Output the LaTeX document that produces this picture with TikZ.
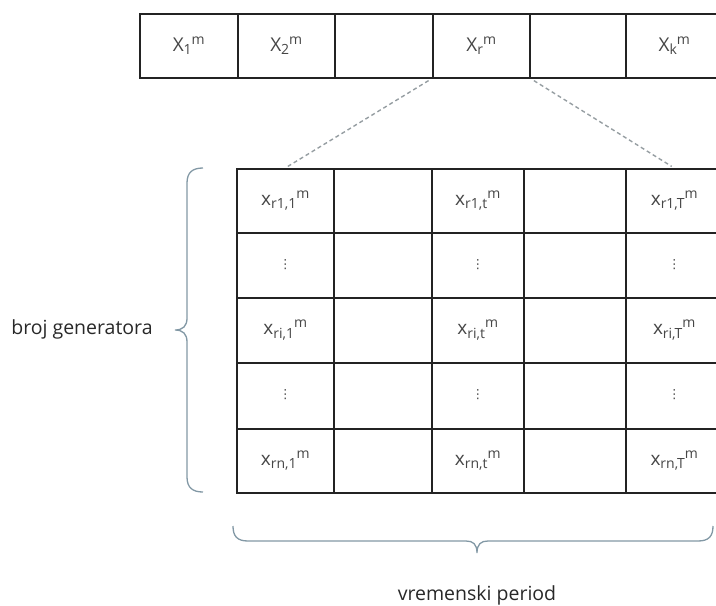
\documentclass[tikz,border=0pt]{standalone}
\usepackage{fontspec}
\setmainfont{Open Sans}
\newfontfamily\symfont{DejaVu Sans}
\definecolor{gridline}{RGB}{35,35,35}
\definecolor{dashgray}{RGB}{150,158,162}
\definecolor{bracecol}{RGB}{130,152,165}
\definecolor{celltxt}{RGB}{70,70,70}
\definecolor{maintxt}{RGB}{40,40,40}
\newcommand{\subsupfont}{\fontsize{14}{15}\selectfont}
\newcommand{\celllbl}[4]{\raisebox{#4}{#1\raisebox{-3.5pt}{\subsupfont #2}\raisebox{7pt}{\subsupfont #3}}}
\newcommand{\vdotsl}{\raisebox{3pt}{\symfont\fontsize{12.5}{13}\selectfont ⋮}}
\begin{document}
\begin{tikzpicture}[x=1pt,y=-1pt,
  cellbox/.style={draw=gridline, line width=1.5pt, anchor=north west, inner sep=0pt,
    text=celltxt, font=\fontsize{19}{21}\selectfont},
  dashline/.style={draw=dashgray, line width=1.4pt, dash pattern=on 4pt off 3pt,
    shorten <=4pt, shorten >=3pt},
  bracestyle/.style={draw=bracecol, line width=1.3pt},
  maintext/.style={text=maintxt, font=\fontsize{19.5}{22}\selectfont, inner sep=0pt}]
\useasboundingbox (0,0) rectangle (716,606);
% top row
\node[cellbox, minimum width=98pt, minimum height=64pt] (t1) at (139,13) {\celllbl{X}{1}{m}{2pt}};
\node[cellbox, minimum width=97pt, minimum height=64pt] (t2) at (237,13) {\celllbl{X}{2}{m}{2pt}};
\node[cellbox, minimum width=98pt, minimum height=64pt] (t3) at (334,13) {};
\node[cellbox, minimum width=97pt, minimum height=64pt] (t4) at (432,13) {\celllbl{X}{r}{m}{2pt}};
\node[cellbox, minimum width=96pt, minimum height=64pt] (t5) at (529,13) {};
\node[cellbox, minimum width=97pt, minimum height=64pt] (t6) at (625,13) {\celllbl{X}{k}{m}{2pt}};
% grid row 1
\node[cellbox, minimum width=97pt, minimum height=64pt] (g11) at (236,168) {\celllbl{x}{r1,1}{m}{6pt}};
\node[cellbox, minimum width=98pt, minimum height=64pt] (g12) at (333,168) {};
\node[cellbox, minimum width=92pt, minimum height=64pt] (g13) at (431,168) {\celllbl{x}{r1,t}{m}{6pt}};
\node[cellbox, minimum width=102pt, minimum height=64pt] (g14) at (523,168) {};
\node[cellbox, minimum width=97pt, minimum height=64pt] (g15) at (625,168) {\celllbl{x}{r1,T}{m}{6pt}};
% grid row 2
\node[cellbox, minimum width=97pt, minimum height=65pt] (g21) at (236,232) {\vdotsl};
\node[cellbox, minimum width=98pt, minimum height=65pt] (g22) at (333,232) {};
\node[cellbox, minimum width=92pt, minimum height=65pt] (g23) at (431,232) {\vdotsl};
\node[cellbox, minimum width=102pt, minimum height=65pt] (g24) at (523,232) {};
\node[cellbox, minimum width=97pt, minimum height=65pt] (g25) at (625,232) {\vdotsl};
% grid row 3
\node[cellbox, minimum width=97pt, minimum height=65pt] (g31) at (236,297) {\celllbl{x}{ri,1}{m}{6pt}};
\node[cellbox, minimum width=98pt, minimum height=65pt] (g32) at (333,297) {};
\node[cellbox, minimum width=92pt, minimum height=65pt] (g33) at (431,297) {\celllbl{x}{ri,t}{m}{6pt}};
\node[cellbox, minimum width=102pt, minimum height=65pt] (g34) at (523,297) {};
\node[cellbox, minimum width=97pt, minimum height=65pt] (g35) at (625,297) {\celllbl{x}{ri,T}{m}{6pt}};
% grid row 4
\node[cellbox, minimum width=97pt, minimum height=66pt] (g41) at (236,362) {\vdotsl};
\node[cellbox, minimum width=98pt, minimum height=66pt] (g42) at (333,362) {};
\node[cellbox, minimum width=92pt, minimum height=66pt] (g43) at (431,362) {\vdotsl};
\node[cellbox, minimum width=102pt, minimum height=66pt] (g44) at (523,362) {};
\node[cellbox, minimum width=97pt, minimum height=66pt] (g45) at (625,362) {\vdotsl};
% grid row 5
\node[cellbox, minimum width=97pt, minimum height=64pt] (g51) at (236,428) {\celllbl{x}{rn,1}{m}{6pt}};
\node[cellbox, minimum width=98pt, minimum height=64pt] (g52) at (333,428) {};
\node[cellbox, minimum width=92pt, minimum height=64pt] (g53) at (431,428) {\celllbl{x}{rn,t}{m}{6pt}};
\node[cellbox, minimum width=102pt, minimum height=64pt] (g54) at (523,428) {};
\node[cellbox, minimum width=97pt, minimum height=64pt] (g55) at (625,428) {\celllbl{x}{rn,T}{m}{6pt}};
% dashed connectors
\draw[dashline] (t4.south west) -- (g11.north);
\draw[dashline] (t4.south east) -- (g15.north);
% left brace
\draw[bracestyle] (203,168) .. controls (193,168) and (187,172) .. (187,183)
  -- (187,318) .. controls (187,326) and (183,330) .. (175,330)
  .. controls (183,330) and (187,334) .. (187,342)
  -- (187,477) .. controls (187,488) and (193,492) .. (203,492);
% bottom brace
\draw[bracestyle] (233,526) .. controls (233,536) and (237,541) .. (248,541)
  -- (466,541) .. controls (473,541) and (477,544) .. (477,553)
  .. controls (477,544) and (481,541) .. (488,541)
  -- (698,541) .. controls (709,541) and (713,536) .. (713,526);
% labels
\node[maintext] (bg) at (82,329) {broj generatora};
\node[maintext] (vp) at (477,595) {vremenski period};
\end{tikzpicture}
\end{document}
